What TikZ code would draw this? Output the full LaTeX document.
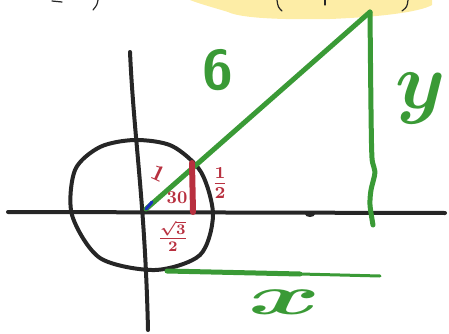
\documentclass[tikz,border=0pt]{standalone}
\usepackage{amsmath}
\usepackage{tikz}
\usetikzlibrary{arrows, arrows.meta}
\definecolor{penblack}{HTML}{262626}
\definecolor{pengreen}{HTML}{3A9A36}
\definecolor{penred}{HTML}{B8303F}
\definecolor{penblue}{HTML}{1A2FC0}
\definecolor{marker}{HTML}{FDEDA6}
\tikzset{axis/.style = {draw = penblack, line width = 4pt, line cap = round}}
\tikzset{ink/.style = {draw = penblack, line width = 1.2pt, line cap = round}}
\tikzset{side/.style = {draw = pengreen, line width = 5pt, line cap = round, line join = round}}
\tikzset{greenlabel/.style = {text = pengreen, inner sep = 0pt, transform shape}}
\tikzset{redlabel/.style = {text = penred, inner sep = 0pt, transform shape}}

\begin{document}
\begin{tikzpicture}[x = 1pt, y = -1pt]
				\useasboundingbox (0, 0) rectangle (449, 334);
	
				% highlighted line at the top, cut off
				\fill[marker] (190, 0) -- (432, 0) -- (432, 5) .. controls (420, 12) and (380, 17) .. (330, 19)
					.. controls (280, 20) and (240, 18) .. (228, 12) .. controls (215, 8) and (200, 4) .. (190, 0);
				\draw[ink] (98, 0) .. controls (97, 5) .. (93, 10);
				\draw[ink] (52, 1) -- (62, 2);
				\draw[ink] (277, 0) .. controls (278, 7) .. (282, 11);
				\draw[ink] (325, 0) -- (325, 5);
				\draw[ink] (408, 0) .. controls (407, 7) .. (402, 11);
	
				\coordinate (o) at (146, 209);
				\coordinate (xl) at (8, 212);
				\coordinate (xr) at (445, 213);
				\coordinate (yt) at (130, 52);
				\coordinate (yb) at (148, 330);
				\coordinate (p) at (370, 12);
				\coordinate (f) at (373, 225);
				\coordinate (q) at (192, 163);
				\coordinate (r) at (193, 212);
				\coordinate (bl) at (167, 271);
				\coordinate (br) at (380, 276);
	
				% axes and circle
				\draw[axis] (xl) to (xr);
				\fill[penblack] (310, 214) ellipse [x radius = 5pt, y radius = 3pt];
				\draw[axis] (yt) .. controls (134, 140) and (145, 200) .. (yb);
				\draw[axis] plot[smooth cycle] coordinates {(135, 140) (172, 146) (201, 172) (213, 215)
					(200, 255) (155, 270) (100, 258) (72, 215) (75, 170) (100, 147)};
	
				% big triangle
				\draw[side] (o) to (p);
				\draw[side] plot[smooth] coordinates {(370, 12) (371, 110) (372, 158) (375, 172) (371, 190) (370, 205) (f)};
				\draw[pengreen, line width = 5pt, line cap = round] (bl) to (300, 274);
				\draw[pengreen, line width = 3pt, line cap = round] (300, 274) to (br);
				\draw[penblue, line width = 3pt, line cap = round] (o) to (152, 202);
	
				% small triangle
				\draw[penred, line width = 6pt, line cap = round] (q) to (r);
	
				\node[greenlabel, font = \sffamily\bfseries\fontsize{56}{56}\selectfont] (six) at (218, 70) {6};
				\node[greenlabel, scale = 8] (ylab) at (421, 98) {$\boldsymbol{y}$};
				\node[greenlabel, xscale = 11, yscale = 5.5] (xlab) at (285, 302) {$\boldsymbol{x}$};
	
				\node[redlabel, rotate = -25, scale = 2.3, font = \bfseries] (one) at (159, 173) {1};
				\node[redlabel, scale = 1.8, font = \bfseries] (ang) at (177, 198) {30};
				\node[redlabel, scale = 2.4] (half) at (220, 183) {$\boldsymbol{\frac{1}{2}}$};
				\node[redlabel, scale = 2.1] (base) at (173, 236) {$\boldsymbol{\frac{\sqrt{3}}{2}}$};
			\end{tikzpicture}
\end{document}
